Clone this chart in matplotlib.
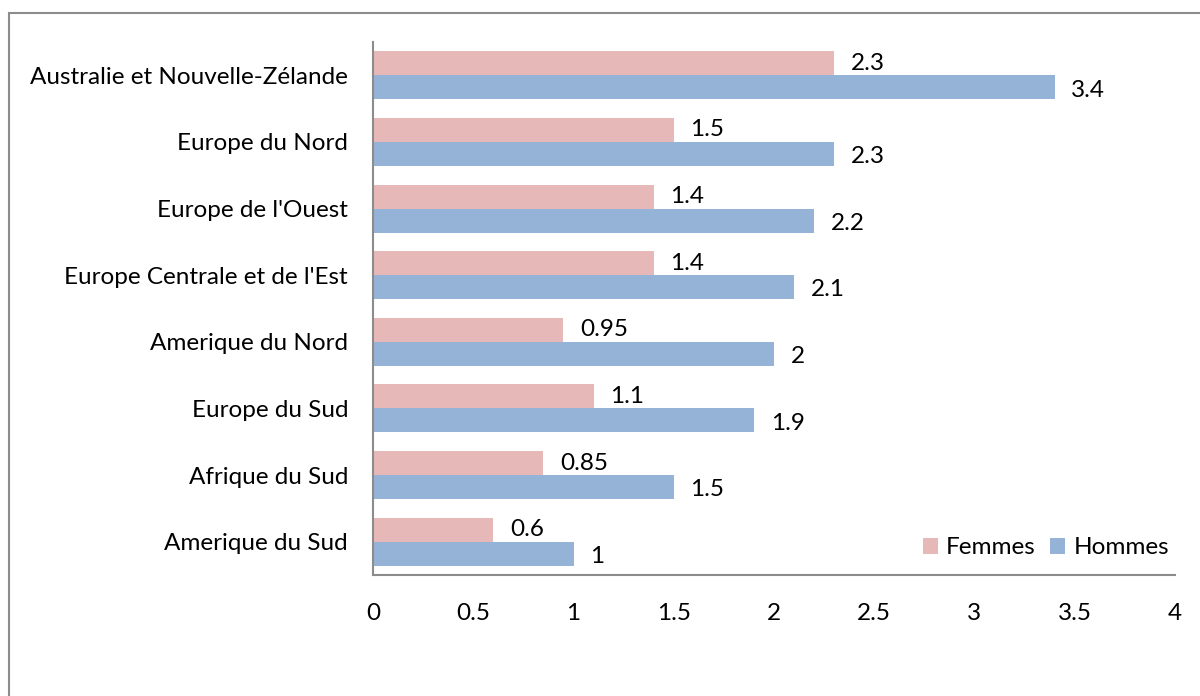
import numpy as np
import matplotlib.pyplot as plt
from matplotlib.patches import Rectangle

plt.rcParams['font.family'] = ['Lato', 'DejaVu Sans']

regions = ['Amerique du Sud', 'Afrique du Sud', 'Europe du Sud', 'Amerique du Nord',
           "Europe Centrale et de l'Est", "Europe de l'Ouest", 'Europe du Nord',
           'Australie et Nouvelle-Zélande']
femmes = [0.6, 0.85, 1.1, 0.95, 1.4, 1.4, 1.5, 2.3]
hommes = [1, 1.5, 1.9, 2, 2.1, 2.2, 2.3, 3.4]
femmes_lbl = ['0.6', '0.85', '1.1', '0.95', '1.4', '1.4', '1.5', '2.3']
hommes_lbl = ['1', '1.5', '1.9', '2', '2.1', '2.2', '2.3', '3.4']
xticks = [0, 0.5, 1, 1.5, 2, 2.5, 3, 3.5, 4]

fs = 17.5
fig = plt.figure(figsize=(12, 6.96), dpi=100)
ax = fig.add_axes([373/1200, 1-575/696, (1175-373)/1200, (575-42)/696])

# outer chart border
fig.patches.append(Rectangle((9/1200, -0.1), 1.2, 1.1 - 13/696, transform=fig.transFigure,
                             fill=False, edgecolor='#8c8c8c', linewidth=1.5))

y = np.arange(len(regions))
h = 0.36
ax.barh(y + h/2, femmes, height=h, color='#E6B9B8', label='Femmes')
ax.barh(y - h/2, hommes, height=h, color='#95B3D7', label='Hommes')

for i in range(len(regions)):
    ax.annotate(femmes_lbl[i], (femmes[i], y[i] + h/2), xytext=(12, 0),
                textcoords='offset points', va='center', ha='left', fontsize=fs)
    ax.annotate(hommes_lbl[i], (hommes[i], y[i] - h/2), xytext=(12, -2),
                textcoords='offset points', va='center', ha='left', fontsize=fs)

ax.set_xlim(0, 4)
ax.set_ylim(-0.5, len(regions) - 0.5)
ax.set_yticks(y)
ax.set_yticklabels(regions, fontsize=fs)
ax.set_xticks(xticks)
ax.set_xticklabels([('%g' % t) for t in xticks], fontsize=fs)
ax.tick_params(axis='both', length=0)
ax.tick_params(axis='y', pad=18)
ax.tick_params(axis='x', pad=20)
for s in ['top', 'right']:
    ax.spines[s].set_visible(False)
for s in ['left', 'bottom']:
    ax.spines[s].set_color('#8c8c8c')
    ax.spines[s].set_linewidth(1.5)

ax.legend(loc='lower right', ncol=2, frameon=False, fontsize=fs, handlelength=0.6,
          handleheight=0.6, handletextpad=0.35, columnspacing=0.6,
          bbox_to_anchor=(1.02, -0.01))

fig.savefig('out.png', dpi=100)
